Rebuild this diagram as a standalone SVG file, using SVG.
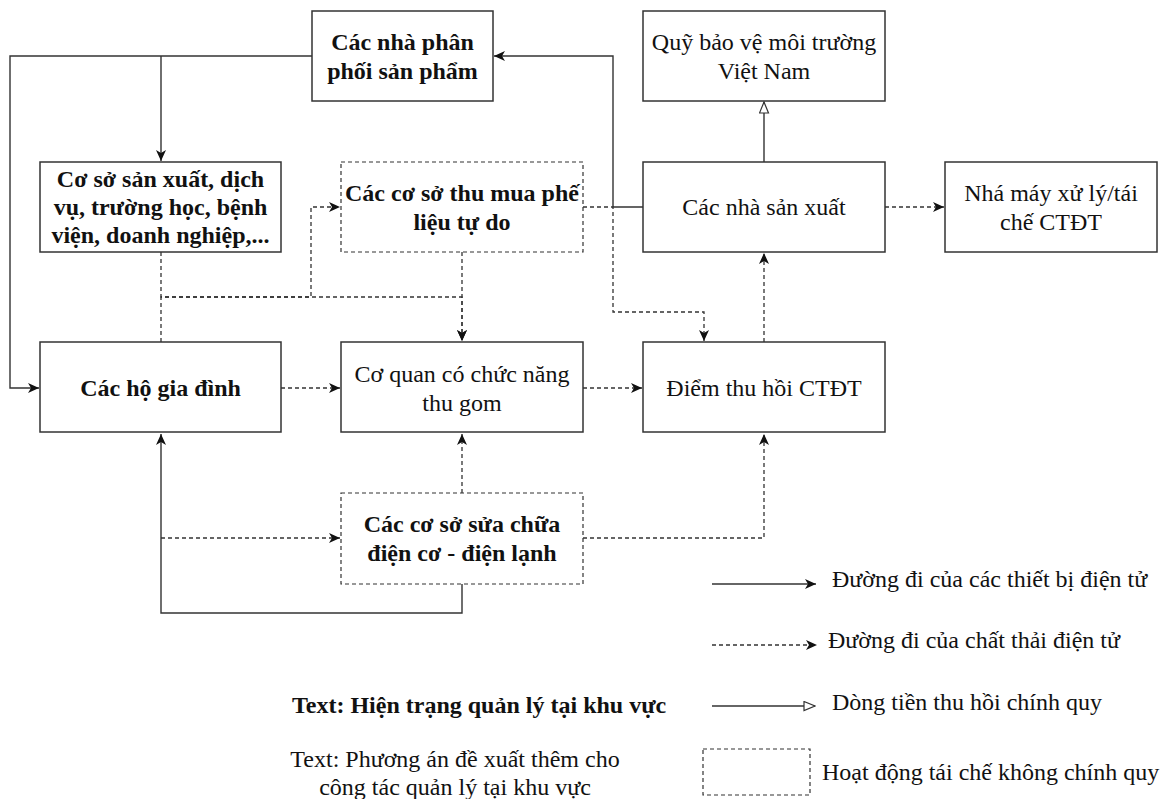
<svg xmlns="http://www.w3.org/2000/svg" width="1167" height="799" viewBox="0 0 1167 799">
<style>
.box{fill:#fff;stroke:#333;stroke-width:1.5}
.dbox{fill:#fff;stroke:#333;stroke-width:1.2;stroke-dasharray:4 3}
.ln{fill:none;stroke:#333;stroke-width:1.4}
.dl{fill:none;stroke:#333;stroke-width:1.3;stroke-dasharray:4 3}
text{font-family:"Liberation Serif","Times New Roman",serif;font-size:24px;fill:#111}
.b{font-weight:bold}
.c{text-anchor:middle}
</style>
<defs>
<marker id="ar" markerUnits="userSpaceOnUse" markerWidth="12" markerHeight="11" refX="11" refY="5.5" orient="auto">
<path d="M0,0.5 L11,5.5 L0,10.5 L3,5.5 Z" fill="#111" stroke="none"/>
</marker>
<marker id="ho" markerUnits="userSpaceOnUse" markerWidth="13" markerHeight="11" refX="12" refY="5.5" orient="auto">
<path d="M1,1 L12,5.5 L1,10 Z" fill="#fff" stroke="#333" stroke-width="1.2"/>
</marker>
</defs>

<g id="connectors">
<path class="ln" d="M643,207 H613 V56 H494" marker-end="url(#ar)"/>
<path class="ln" d="M312,56 H10 V388 H39" marker-end="url(#ar)"/>
<path class="ln" d="M161,56 V161" marker-end="url(#ar)"/>
<path class="dl" d="M161,252 V297 H462 V341" marker-end="url(#ar)"/>
<path class="dl" d="M161,342 V297 H311 V207 H340" marker-end="url(#ar)"/>
<path class="dl" d="M462,252 V341" marker-end="url(#ar)"/>
<path class="dl" d="M583,207 H613 V312 H704 V341" marker-end="url(#ar)"/>
<path class="dl" d="M281,388 H340" marker-end="url(#ar)"/>
<path class="dl" d="M583,388 H642" marker-end="url(#ar)"/>
<path class="dl" d="M764,342 V253" marker-end="url(#ar)"/>
<path class="ln" d="M764,162 V102" marker-end="url(#ho)"/>
<path class="dl" d="M885,207 H944" marker-end="url(#ar)"/>
<path class="dl" d="M462,493 V434" marker-end="url(#ar)"/>
<path class="dl" d="M583,538 H764 V434" marker-end="url(#ar)"/>
<path class="ln" d="M462,584 V613 H161 V434" marker-end="url(#ar)"/>
<path class="dl" d="M161,538 H340" marker-end="url(#ar)"/>
</g>

<g id="n-phanphoi">
<rect class="box" x="312" y="11" width="181" height="90"/>
<text class="b c" x="402.5" y="49.5">Các nhà phân</text>
<text class="b c" x="402.5" y="78.5">phối sản phẩm</text>
</g>
<g id="n-quy">
<rect class="box" x="643" y="11" width="242" height="90"/>
<text class="c" x="764" y="49.5">Quỹ bảo vệ môi trường</text>
<text class="c" x="764" y="78.5">Việt Nam</text>
</g>
<g id="n-coso">
<rect class="box" x="40" y="162" width="241" height="90"/>
<text class="b c" x="160.5" y="187">Cơ sở sản xuất, dịch</text>
<text class="b c" x="160.5" y="215">vụ, trường học, bệnh</text>
<text class="b c" x="160.5" y="243">viện, doanh nghiệp,...</text>
</g>
<g id="n-thumua">
<rect class="dbox" x="341" y="162" width="242" height="90"/>
<text class="b c" x="462" y="200.5">Các cơ sở thu mua phế</text>
<text class="b c" x="462" y="229.5">liệu tự do</text>
</g>
<g id="n-nhasanxuat">
<rect class="box" x="643" y="162" width="242" height="90"/>
<text class="c" x="764" y="215">Các nhà sản xuất</text>
</g>
<g id="n-nhamay">
<rect class="box" x="945" y="162" width="212" height="90"/>
<text class="c" x="1051" y="200.5">Nhá máy xử lý/tái</text>
<text class="c" x="1051" y="229.5">chế CTĐT</text>
</g>
<g id="n-hogiadinh">
<rect class="box" x="40" y="342" width="241" height="90"/>
<text class="b c" x="160.5" y="395.5">Các hộ gia đình</text>
</g>
<g id="n-coquan">
<rect class="box" x="341" y="342" width="242" height="90"/>
<text class="c" x="462" y="381.5">Cơ quan có chức năng</text>
<text class="c" x="462" y="410.5">thu gom</text>
</g>
<g id="n-diemthuhoi">
<rect class="box" x="643" y="342" width="242" height="90"/>
<text class="c" x="764" y="395.5">Điểm thu hồi CTĐT</text>
</g>
<g id="n-suachua">
<rect class="dbox" x="341" y="493" width="242" height="91"/>
<text class="b c" x="462" y="532">Các cơ sở sửa chữa</text>
<text class="b c" x="462" y="561">điện cơ - điện lạnh</text>
</g>

<g id="legend">
<path class="ln" d="M712,584 H816" marker-end="url(#ar)"/>
<text x="832" y="587">Đường đi của các thiết bị điện tử</text>
<path class="dl" d="M712,645 H817" marker-end="url(#ar)"/>
<text x="828" y="648">Đường đi của chất thải điện tử</text>
<path class="ln" d="M712,706 H815" marker-end="url(#ho)"/>
<text x="832" y="710">Dòng tiền thu hồi chính quy</text>
<rect class="dbox" x="703" y="749" width="107" height="46"/>
<text x="822" y="780">Hoạt động tái chế không chính quy</text>
<text class="b" x="292" y="713">Text: Hiện trạng quản lý tại khu vực</text>
<text class="c" x="455" y="767">Text: Phương án đề xuất thêm cho</text>
<text class="c" x="455" y="795">công tác quản lý tại khu vực</text>
</g>
</svg>
